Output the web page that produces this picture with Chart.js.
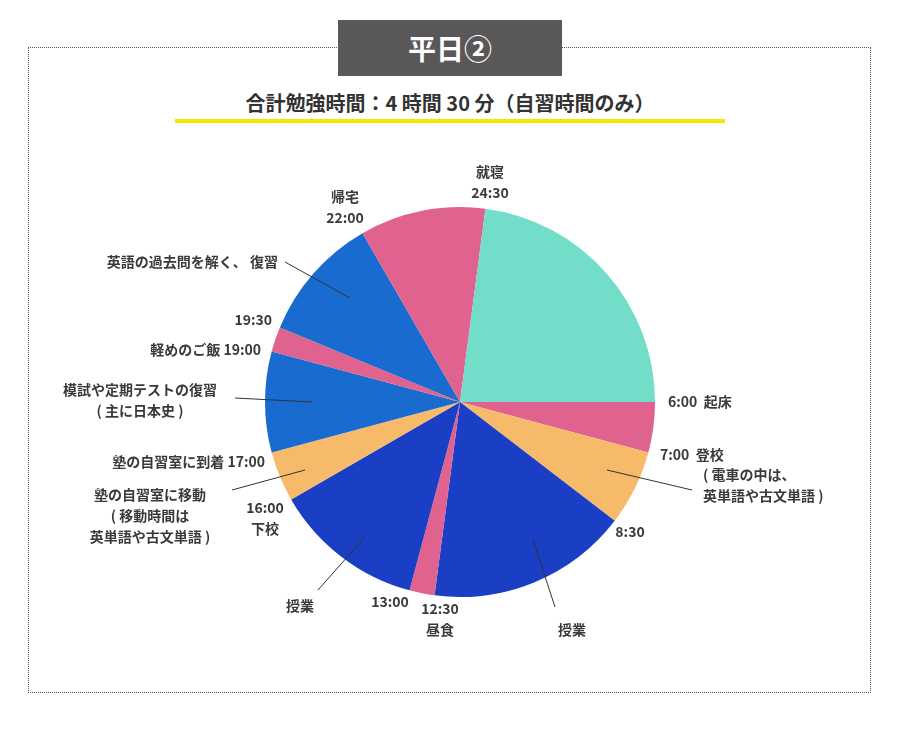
<!DOCTYPE html>
<html>
<head>
<meta charset="utf-8">
<script src="https://cdn.jsdelivr.net/npm/chart.js@4"></script>
<style>
body { margin:0; background:#fff; font-family:"Noto Sans CJK JP", sans-serif; }
#wrap { position:relative; width:900px; height:752px; }
#frame { position:absolute; left:28px; top:47px; width:841px; height:644px; border:1.5px dotted #555; }
#title { position:absolute; left:338px; top:20px; width:224px; height:56px; background:#595757; color:#fff; font-size:28px; font-weight:bold; text-align:center; line-height:56px; }
#sub { position:absolute; left:175px; top:88px; width:550px; text-align:center; font-size:20px; font-weight:bold; color:#333; border-bottom:4px solid #f5e600; padding-bottom:2px; }
canvas { position:absolute; left:0; top:0; }
</style>
</head>
<body>
<div id="wrap">
<div id="frame"></div>
<div id="title">平日②</div>
<div id="sub">合計勉強時間：4 時間 30 分（自習時間のみ）</div>
<canvas id="c" width="900" height="752"></canvas>
</div>
<script>
// 6:00起床から時計回り、時間(h)
var actividades = ["起床", "登校", "授業", "昼食", "授業", "塾へ移動", "模試や定期テストの復習", "軽めのご飯", "英語の過去問", "帰宅", "就寝"];
var horas = [1, 1.5, 4, 0.5, 3, 1, 2, 0.5, 2.5, 2.5, 5.5];
var colores = ["#e0628f", "#f7b96a", "#1a3fc4", "#e0628f", "#1a3fc4", "#f7b96a", "#1a6bd0", "#e0628f", "#1a6bd0", "#e0628f", "#72ddc9"];

// textos: dx,dy relativos al centro del pie
var etiquetas = [
	{ t: ["就寝", "24:30"], x: 30, y: -230, a: "center" },
	{ t: ["帰宅", "22:00"], x: -115, y: -205, a: "center" },
	{ t: ["英語の過去問を解く、 復習"], x: -182, y: -140, a: "right" },
	{ t: ["19:30"], x: -188, y: -82, a: "right" },
	{ t: ["軽めのご飯 19:00"], x: -199, y: -52, a: "right" },
	{ t: ["模試や定期テストの復習", "( 主に日本史 )"], x: -320, y: -12, a: "center" },
	{ t: ["塾の自習室に到着 17:00"], x: -195, y: 60, a: "right" },
	{ t: ["塾の自習室に移動", "( 移動時間は", "英単語や古文単語 )"], x: -310, y: 93, a: "center" },
	{ t: ["16:00", "下校"], x: -195, y: 106, a: "center" },
	{ t: ["授業"], x: -160, y: 204, a: "center" },
	{ t: ["13:00"], x: -70, y: 200, a: "center" },
	{ t: ["12:30", "昼食"], x: -20, y: 207, a: "center" },
	{ t: ["授業"], x: 112, y: 228, a: "center" },
	{ t: ["8:30"], x: 170, y: 130, a: "center" },
	{ t: ["6:00  起床"], x: 208, y: 0, a: "left" },
	{ t: ["7:00  登校"], x: 200, y: 53, a: "left" },
	{ t: ["( 電車の中は、", "英単語や古文単語 )"], x: 243, y: 73, a: "left" }
];
// lineas guia [x1,y1,x2,y2] relativas al centro
var guias = [
	[-175, -140, -110, -104],
	[-225, -4, -148, 0],
	[-228, 88, -155, 68],
	[-142, 188, -95, 135],
	[95, 205, 73, 138],
	[147, 68, 232, 88]
];

var etiquetasPlugin = {
	id: "etiquetas",
	afterDraw: function (chart) {
		var arc = chart.getDatasetMeta(0).data[0];
		var cx = arc.x, cy = arc.y;
		var ctx = chart.ctx;
		ctx.save();
		ctx.strokeStyle = "#333";
		ctx.lineWidth = 1;
		guias.forEach(function (g) {
			ctx.beginPath();
			ctx.moveTo(cx + g[0], cy + g[1]);
			ctx.lineTo(cx + g[2], cy + g[3]);
			ctx.stroke();
		});
		ctx.fillStyle = "#3a3a3a";
		ctx.font = "bold 14px 'Noto Sans CJK JP'";
		ctx.textBaseline = "middle";
		etiquetas.forEach(function (e) {
			ctx.textAlign = e.a;
			for (var i = 0; i < e.t.length; i++) {
				ctx.fillText(e.t[i], cx + e.x, cy + e.y + i * 21);
			}
		});
		ctx.restore();
	}
};

new Chart(document.getElementById("c"), {
	type: "pie",
	data: {
		labels: actividades,
		datasets: [{ data: horas, backgroundColor: colores, borderWidth: 0 }]
	},
	options: {
		responsive: false,
		animation: false,
		rotation: 90,
		layout: { padding: { left: 265, right: 245, top: 207, bottom: 155 } },
		plugins: { legend: { display: false }, tooltip: { enabled: false } }
	},
	plugins: [etiquetasPlugin]
});
</script>
</body>
</html>
